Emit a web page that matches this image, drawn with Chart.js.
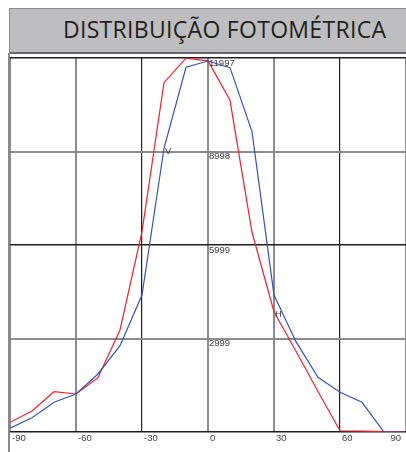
<!DOCTYPE html>
<html>
<head>
<meta charset="utf-8">
<script src="https://cdn.jsdelivr.net/npm/chart.js@4"></script>
<style>
  html, body { margin: 0; padding: 0; background: #fff; }
  body { position: relative; width: 406px; height: 452px; overflow: hidden; }
  #chart { position: absolute; left: 0; top: 0; }
  #titleBox {
    position: absolute; left: 9px; top: 8px; width: 397px; height: 43px;
    background: #bebec0; border-top: 1px solid #8a8a8c;
    border-left: 1px solid #8a8a8c; border-bottom: 2px solid #68686a;
  }
  #title {
    position: absolute; left: 63px; top: 14px; white-space: nowrap;
    font: 23px/30px "Open Sans", sans-serif; letter-spacing: 0.3px; color: #231f20;
  }
  #frame { position: absolute; left: 8px; top: 53px; width: 1.5px; height: 399px; background: #8a8a8a; }
</style>
</head>
<body>
<canvas id="chart" width="406" height="452"></canvas>
<div id="titleBox"></div>
<div id="title">DISTRIBUIÇÃO FOTOMÉTRICA</div>
<div id="frame"></div>
<script>
const angles = [-90, -80, -70, -60, -50, -40, -30, -20, -10, 0, 10, 20, 30, 40, 50, 60, 70, 80, 90];
const seriesV = [119, 459, 953, 1219, 1861, 2769, 4395, 9101, 11700, 11900, 11688, 9634, 4395, 2897, 1755, 1273, 953, 0, 0];
const seriesH = [311, 674, 1293, 1219, 1742, 3272, 6426, 11206, 11990, 11903, 10640, 6407, 3859, 2590, 1300, 40, 25, 12, 0];

const xTicks = [-90, -60, -30, 0, 30, 60, 90];
const xTickLabels = ["-90", "-60", "-30", "0", "30", "60", "90"];
const yTicks = [0, 2999.25, 5998.5, 8997.75, 11997];
const yTickLabels = ["", "2999", "5999", "8998", "11997"];

// where the curve names sit: [label, series, angle]
const curveNames = [["V", seriesV, -20], ["H", seriesH, 30]];

const darkX = [-30, 60];
const darkY = [0, 5998.5, 11997];

function toPoints(values) {
  return angles.map((a, i) => ({ x: a, y: values[i] }));
}

const labelPlugin = {
  id: "labels",
  afterDraw(chart) {
    const { ctx, scales: { x, y } } = chart;
    ctx.save();
    ctx.font = "9.5px 'Liberation Sans', Arial, sans-serif";
    ctx.fillStyle = "#3a3a3a";
    ctx.textBaseline = "middle";

    xTicks.forEach((v, i) => {
      const px = x.getPixelForValue(v);
      if (i === xTicks.length - 1) {
        ctx.textAlign = "right";
        ctx.fillText(xTickLabels[i], px - 5, 438);
      } else {
        ctx.textAlign = "left";
        ctx.fillText(xTickLabels[i], px + 2, 438);
      }
    });

    ctx.textAlign = "left";
    const x0 = x.getPixelForValue(0);
    yTicks.forEach((v, i) => {
      if (!yTickLabels[i]) return;
      ctx.fillText(yTickLabels[i], x0 + 1, y.getPixelForValue(v) + 5);
    });

    curveNames.forEach(([name, values, angle]) => {
      const i = angles.indexOf(angle);
      ctx.fillText(name, x.getPixelForValue(angle) + 1, y.getPixelForValue(values[i]) + 3);
    });
    ctx.restore();
  }
};

new Chart(document.getElementById("chart"), {
  type: "line",
  data: {
    datasets: [
      {
        label: "V",
        data: toPoints(seriesV),
        borderColor: "#3654b0",
        borderWidth: 1.2,
        pointRadius: 0,
        tension: 0,
        fill: false
      },
      {
        label: "H",
        data: toPoints(seriesH),
        borderColor: "#f0202c",
        borderWidth: 1.2,
        pointRadius: 0,
        tension: 0,
        fill: false
      }
    ]
  },
  options: {
    responsive: false,
    animation: false,
    events: [],
    layout: { padding: { left: 10, top: 58, right: 0, bottom: 20 } },
    plugins: { legend: { display: false }, tooltip: { enabled: false } },
    scales: {
      x: {
        type: "linear",
        min: -90,
        max: 90,
        afterBuildTicks: s => { s.ticks = xTicks.map(v => ({ value: v })); },
        ticks: { display: false },
        border: { display: false },
        grid: {
          drawTicks: false,
          color: c => darkX.includes(c.tick.value) ? "#1e1e1e" : "#8c8c8c",
          lineWidth: c => darkX.includes(c.tick.value) ? 1.2 : 2
        }
      },
      y: {
        type: "linear",
        min: 0,
        max: 11997,
        afterBuildTicks: s => { s.ticks = yTicks.map(v => ({ value: v })); },
        ticks: { display: false },
        border: { display: false },
        grid: {
          drawTicks: false,
          color: c => darkY.includes(c.tick.value) ? "#1e1e1e" : "#8c8c8c",
          lineWidth: c => darkY.includes(c.tick.value) ? 1.4 : 2
        }
      }
    }
  },
  plugins: [labelPlugin]
});
</script>
</body>
</html>
